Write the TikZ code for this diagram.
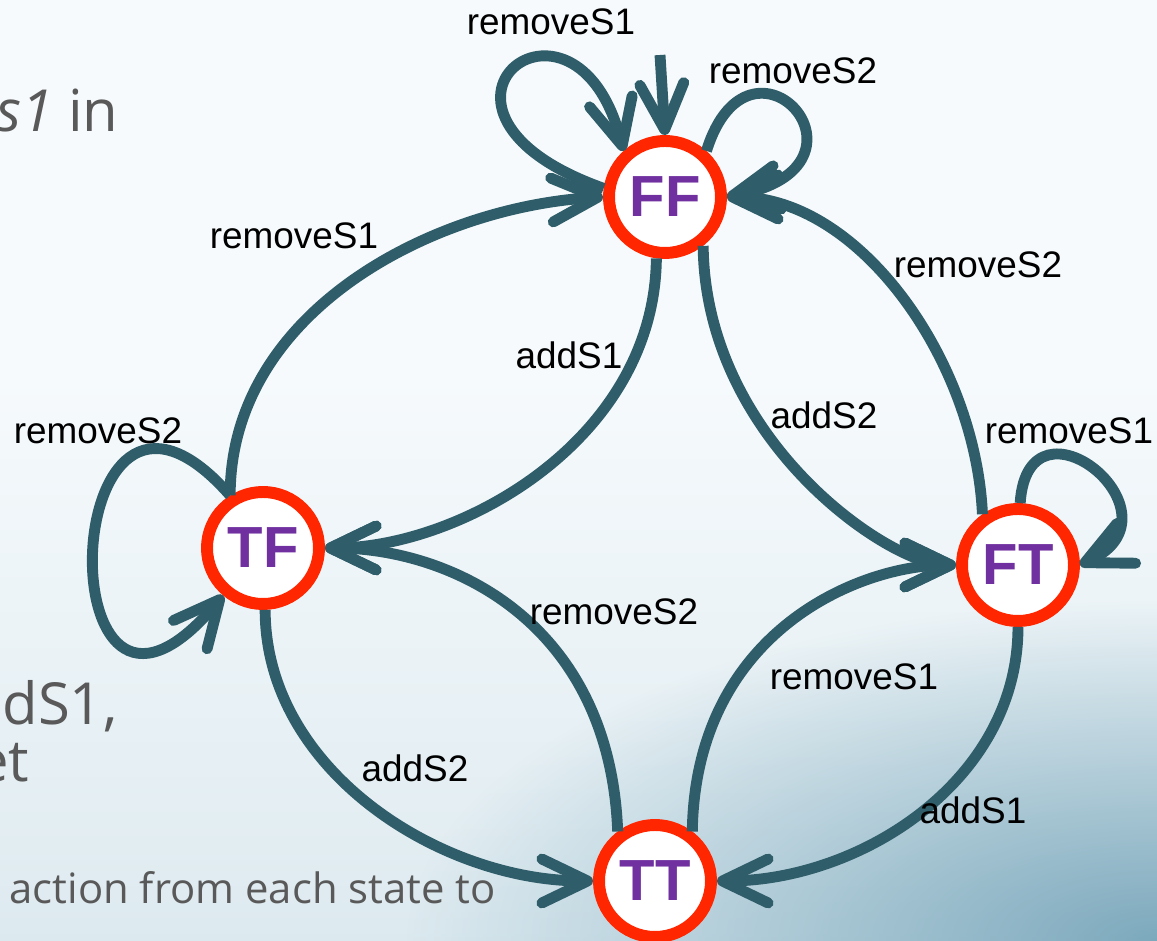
\documentclass[tikz,border=0pt]{standalone}
\usepackage{fontspec}
\setmainfont{Liberation Sans}
\newfontfamily\slidefont{Open Sans}
\usetikzlibrary{arrows.meta, fadings}

\definecolor{edgeblue}{RGB}{47,93,106}
\definecolor{ringred}{RGB}{255,38,0}
\definecolor{statepurple}{RGB}{112,48,160}
\definecolor{slidegray}{RGB}{89,89,89}
\definecolor{bgtop}{RGB}{246,250,252}
\definecolor{bgmid}{RGB}{226,237,242}
\definecolor{bglow}{RGB}{190,215,226}
\definecolor{bgdeep}{RGB}{108,158,180}
\pgfdeclareverticalshading{slidebg}{100bp}{color(0bp)=(bglow); color(30bp)=(bgmid); color(55bp)=(bgtop); color(100bp)=(bgtop)}
\tikzfading[name=cornerfade, inner color=transparent!15, outer color=transparent!100]

\begin{document}
\begin{tikzpicture}[
    every node/.style={font=\fontsize{10.5}{12}\selectfont},
    stnode/.style={circle, draw=ringred, line width=3.4pt, fill=white,
        minimum size=1.12cm, inner sep=0pt, text=statepurple,
        font=\fontsize{16.5}{18}\selectfont\bfseries},
    trans/.style={draw=edgeblue, line width=3.1pt,
        -{Straight Barb[length=13pt, width=12.5pt, round]}},
    slide/.style={text=slidegray, inner sep=0pt,
        font=\slidefont\fontsize{16.5}{19}\selectfont}
]
    % slide background
    \useasboundingbox (0,0) rectangle (11.57,9.41);
    \shade[shading=slidebg] (0,0) rectangle (11.57,9.41);
    \fill[bgdeep, path fading=cornerfade] (11.57,0) ellipse (7.5 and 3.4);

    % slide text behind the diagram
    \node[slide, anchor=base east] (slideA) at (1.19,8.09) {\textit{s1} in};
    \node[slide, anchor=base east] (slideB) at (0.06,3.76) {n};
    \node[slide, anchor=base east] (slideC) at (1.18,2.16) {dS1,};
    \node[slide, anchor=base east] (slideD) at (0.30,1.59) {et};
    \node[slide, anchor=base west, font=\slidefont\fontsize{11.9}{14}\selectfont]
        (slideE) at (0.09,0.37) {action from each state to};

    % states
    \node[stnode] (FF) at (6.65,7.44) {FF};
    \node[stnode] (TF) at (2.63,3.93) {TF};
    \node[stnode] (FT) at (10.18,3.76) {FT};
    \node[stnode] (TT) at (6.55,0.60) {TT};

    % initial arrow
    \coordinate (init) at (6.60,8.86);
    \draw[trans] (init) -- (FF.north);

    % self loops
    \draw[trans] (FF.172) .. controls (3.85,8.3) and (5.75,9.8) .. (FF.132);
    \draw[trans] (FF.48) .. controls (7.5,9.3) and (8.9,7.75) .. (FF.east);
    \draw[trans] (TF.122) .. controls (0.55,6.45) and (0.43,1.31) .. (TF.230);
    \draw[trans] (FT.88) .. controls (10.28,5.575) and (11.89,4.27) .. (FT.east);

    % transitions between states
    \draw[trans] (FF.262) .. controls +(-0.02,-1.82) and +(1.35,0) .. (TF.east);
    \draw[trans] (TF.122) .. controls +(0,1.84) and +(-1.7,-0.1) .. (FF.west);
    \draw[trans] (FF.-52) .. controls +(0.02,-1.95) and +(-0.66,0) .. (FT.west);
    \draw[trans] (FT.125) .. controls +(-0.07,1.53) and +(1.33,0) .. (FF.east);
    \draw[trans] (TF.-88) .. controls +(0,-1.6) and +(-1.53,0) .. (TT.west);
    \draw[trans] (TT.127) .. controls +(-0.08,2.1) and +(1.25,0) .. (TF.east);
    \draw[trans] (TT.53) .. controls +(0.03,2.0) and +(-0.96,0) .. (FT.west);
    \draw[trans] (FT.south) .. controls +(0,-1.54) and +(1.43,0) .. (TT.east);

    % labels
    \foreach \name/\x/\y/\txt in {
        lblFFa/5.51/9.19/removeS1, lblFFb/7.93/8.70/removeS2,
        lblTFFF/2.94/7.05/removeS1, lblFTFF/9.78/6.76/removeS2,
        lblFFTF/5.69/5.86/addS1, lblFFFT/8.24/5.26/addS2,
        lblTF/0.98/5.10/removeS2, lblFT/10.69/5.10/removeS1,
        lblTTTF/6.14/3.29/removeS2, lblTTFT/8.54/2.64/removeS1,
        lblTFTT/4.15/1.73/addS2, lblFTTT/9.73/1.31/addS1}
        \node (\name) at (\x,\y) {\txt};
\end{tikzpicture}
\end{document}
